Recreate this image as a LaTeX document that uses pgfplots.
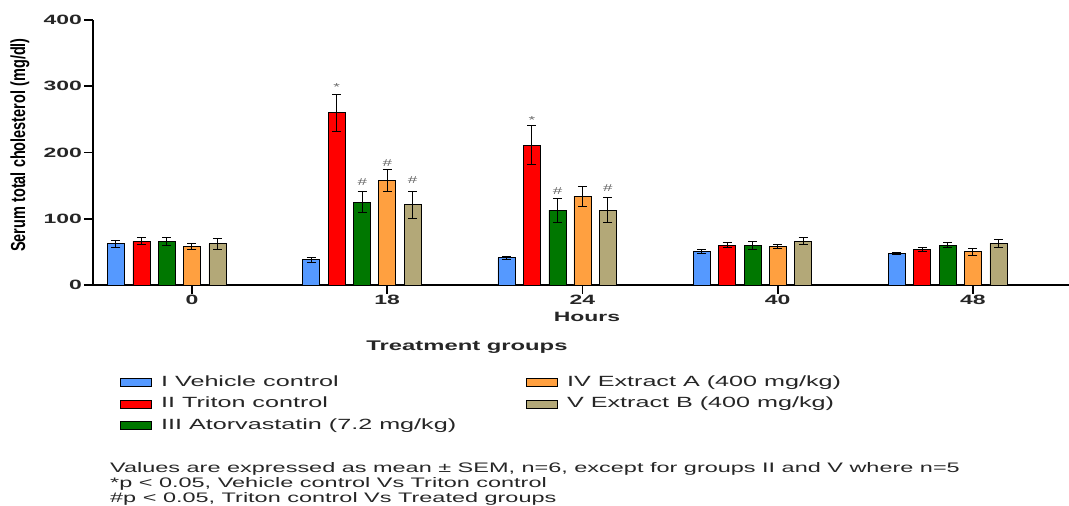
\documentclass[border=0pt]{standalone}
\usepackage{pgfplots}
\usepackage{pgfplotstable}
\pgfplotsset{compat=1.18}
\usepackage{fontspec}
\setmainfont{Liberation Sans}[FakeStretch=1.7]
\newfontfamily\plainsans{Liberation Sans}
\definecolor{cI}{RGB}{85,153,255}
\definecolor{cII}{RGB}{255,0,0}
\definecolor{cIII}{RGB}{0,119,0}
\definecolor{cIV}{RGB}{255,160,64}
\definecolor{cV}{RGB}{179,168,120}

\pgfplotstableread{
x y e
0 62 5
1 38 4
2 41 2
3 50 3
4 47.5 2
}\tI
\pgfplotstableread{
x y e
0 66 5
1 260 28
2 211 29
3 60 3.5
4 53.5 3
}\tII
\pgfplotstableread{
x y e
0 65 6
1 125 16
2 113 18
3 60 6
4 60 4
}\tIII
\pgfplotstableread{
x y e
0 58 5
1 158 17
2 134 15
3 58.6 3
4 50 5
}\tIV
\pgfplotstableread{
x y e
0 62 8
1 121 20
2 113 19
3 66 5
4 63 6
}\tV

\begin{document}
\begin{tikzpicture}
\useasboundingbox (0,0) rectangle (1069pt,506pt);
\begin{axis}[
  at={(93pt,221pt)}, anchor=south west, scale only axis,
  width=976pt, height=265pt,
  xmin=-0.507, xmax=4.492, ymin=0, ymax=400,
  ybar=0pt, bar width=17pt,
  axis x line=bottom, axis y line=left,
  axis line style={-, black},
  x axis line style={line width=1.6pt},
  y axis line style={line width=2.6pt},
  xtick={0,1,2,3,4}, xticklabels={0,18,24,40,48},
  ytick={0,100,200,300,400},
  tick align=outside, major tick length=9pt,
  tick style={line width=1.6pt, black},
  ticklabel style={font=\bfseries\fontsize{13.5}{15}\selectfont, text=black!85},
  /pgf/number format/assume math mode=true,
  yticklabel style={inner sep=2pt},
  xticklabel style={inner sep=1pt},
  every axis plot/.append style={bar shift=0pt},
  error bars/y dir=both, error bars/y explicit,
  error bars/error bar style={line width=1pt, black},
  error bars/error mark options={rotate=90, mark size=4.5pt, line width=1pt, black},
  legend columns=2,
  legend cell align=left,
  legend image code/.code={\draw[#1, draw=black, line width=0.9pt] (0pt,-4pt) rectangle (31pt,4pt); \path (40pt,0pt);},
  legend style={at={(axis description cs:0.0277,-0.3396)}, anchor=north west,
    draw=none, fill=none, inner sep=0pt, row sep=6.5pt,
    nodes={inner sep=0pt, text height=11pt, text depth=4pt,
      font=\fontsize{14.8}{17}\selectfont, text=black!85}},
]
\addplot[fill=cI, draw=black, line width=0.9pt] table[x expr=\thisrow{x}-0.3893, y=y, y error=e]{\tI};
\addlegendentry{\makebox[365pt][l]{I Vehicle control}}
\addplot[fill=cIV, draw=black, line width=0.9pt] table[x expr=\thisrow{x}, y=y, y error=e]{\tIV};
\addlegendentry{IV Extract A (400 mg/kg)}
\addplot[fill=cII, draw=black, line width=0.9pt] table[x expr=\thisrow{x}-0.2587, y=y, y error=e]{\tII};
\addlegendentry{\makebox[365pt][l]{II Triton control}}
\addplot[fill=cV, draw=black, line width=0.9pt] table[x expr=\thisrow{x}+0.1306, y=y, y error=e]{\tV};
\addlegendentry{V Extract B (400 mg/kg)}
\addplot[fill=cIII, draw=black, line width=0.9pt] table[x expr=\thisrow{x}-0.1280, y=y, y error=e]{\tIII};
\addlegendentry{\makebox[365pt][l]{III Atorvastatin (7.2 mg/kg)}}

\begin{scope}[every node/.style={font=\fontsize{10}{11}\selectfont, text=black!60}]
\node at (axis cs:0.7413,299) {*};
\node at (axis cs:1.7413,249) {*};
\node at (axis cs:0.872,155) {\#};
\node at (axis cs:1,184) {\#};
\node at (axis cs:1.1306,158) {\#};
\node at (axis cs:1.872,142) {\#};
\node at (axis cs:2.1306,146) {\#};
\end{scope}
\end{axis}

\node at (20pt,361pt) {\scalebox{1.4}[1]{\rotatebox{90}{\plainsans\bfseries\fontsize{14.5}{16}\selectfont Serum total cholesterol (mg/dl)}}};
\node[font=\bfseries\fontsize{13.5}{15}\selectfont, text=black!85] at (587pt,189pt) {Hours};
\node[font=\bfseries\fontsize{14}{16}\selectfont, text=black!85] at (467pt,159pt) {Treatment groups};
\begin{scope}[every node/.style={anchor=west, inner sep=0pt, font=\fontsize{13.8}{15}\selectfont, text=black!85}]
\node at (110pt,37.5pt) {Values are expressed as mean ± SEM, n=6, except for groups II and V where n=5};
\node at (110pt,22pt) {*p < 0.05, Vehicle control Vs Triton control};
\node at (110pt,7.5pt) {\#p < 0.05, Triton control Vs Treated groups};
\end{scope}
\end{tikzpicture}
\end{document}
